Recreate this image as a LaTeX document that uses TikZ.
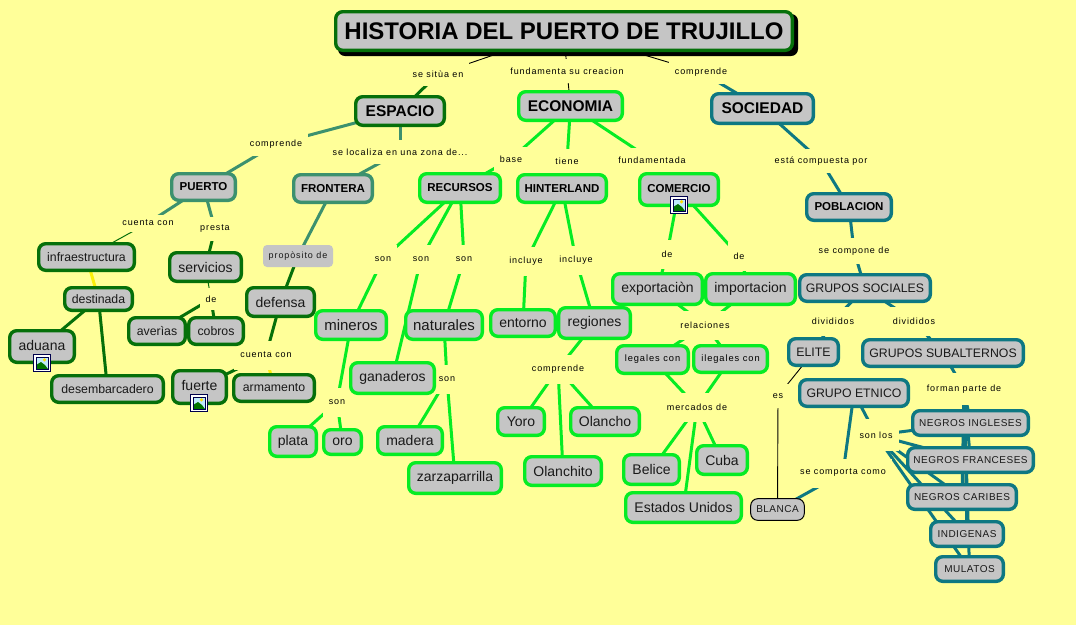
\documentclass[tikz,border=0pt]{standalone}
\usepackage{fontspec}
\setmainfont{Liberation Sans}
\newfontfamily\lsp[LetterSpace=10]{Liberation Sans}
\newfontfamily\lspb[LetterSpace=5]{Liberation Sans}
\usetikzlibrary{backgrounds}
\definecolor{bgy}{RGB}{255,255,153}
\definecolor{boxg}{RGB}{197,197,197}
\definecolor{dg}{RGB}{6,112,10}
\definecolor{mg}{RGB}{60,145,110}
\definecolor{bg}{RGB}{6,236,36}
\definecolor{tl}{RGB}{14,120,130}
\definecolor{yl}{RGB}{250,240,10}
\definecolor{txt}{RGB}{25,25,25}
\newcommand{\fs}[1]{\fontsize{#1}{#1}\selectfont}
\tikzset{
  cbox/.style={rectangle,rounded corners=7pt,fill=boxg,line width=3.4pt,text=txt,inner sep=0pt,outer sep=0pt,align=center},
  cdg/.style={cbox,draw=dg},
  cbg/.style={cbox,draw=bg},
  cmg/.style={cbox,draw=mg},
  ctl/.style={cbox,draw=tl},
  cbk/.style={cbox,draw=black,line width=1pt},
  lab/.style={rectangle,fill=bgy,font=\fs{9}\lsp,text=black,inner xsep=6pt,inner ysep=0pt,minimum height=24pt,outer sep=0pt},
  labm/.style={lab,minimum height=29pt},
  labt/.style={lab,minimum height=32pt},
  big/.style={font=\fs{15.5}\bfseries,text=black},
  midb/.style={font=\fs{11.5}\bfseries,text=black},
  t12/.style={font=\fs{12.3}},
  t14/.style={font=\fs{14}},
  t15/.style={font=\fs{15}},
  t10/.style={font=\fs{10}\lspb},
  t9/.style={font=\fs{9.3}\lsp,text=black},
  ldg/.style={draw=dg,line width=3pt},
  lmg/.style={draw=mg,line width=3pt},
  lbg/.style={draw=bg,line width=3pt},
  ltl/.style={draw=tl,line width=3pt},
  lyl/.style={draw=yl,line width=3pt},
  lthin/.style={draw=black,line width=0.9pt},
  lthg/.style={draw=dg,line width=1pt},
}
\newcommand{\cn}[7]{%
  \pgfmathsetmacro{\cx}{(#3+#5)/2}\pgfmathsetmacro{\cy}{(#4+#6)/2}%
  \pgfmathsetmacro{\cw}{#5-#3-3.4}\pgfmathsetmacro{\ch}{#6-#4-3.4}%
  \node[#1,minimum width=\cw pt,minimum height=\ch pt] (#2) at (\cx,\cy) {#7};}
\newcommand{\imgicon}[2]{%
  \begin{scope}[shift={(#1,#2)}]
    \fill[white] (-8.5,-8.5) rectangle (8.5,8.5);
    \draw[black!70!blue,line width=0.8pt] (-8.5,-8.5) rectangle (8.5,8.5);
    \fill[cyan!25!white] (-6,-6) rectangle (6,6);
    \fill[green!45!black] (-6,6) -- (-6,2) -- (-1,-1) -- (3,2) -- (6,6) -- cycle;
    \fill[yellow!80!orange] (2.5,-3.2) circle (1.8);
    \draw[black!70!blue,line width=0.6pt] (-6,-6) rectangle (6,6);
  \end{scope}}
\begin{document}
\begin{tikzpicture}[x=1pt,y=-1pt]
\useasboundingbox (0,0) rectangle (1076,625);
% linking phrases
\node[lab] (lsitua) at (438,74) {se sitùa en};
\node[lab] (lfunda) at (567,71) {fundamenta su creacion};
\node[lab] (lcomp) at (701,72) {comprende};
\node[lab] (lcomp2) at (276,144) {comprende};
\node[lab] (lzona) at (400,152) {se localiza en una zona de...};
\node[lab] (lbase) at (511,159) {base};
\node[lab] (ltiene) at (567,161) {tiene};
\node[lab] (lfundam) at (652,160) {fundamentada};
\node[lab] (lesta) at (821,161) {está compuesta por};
\node[lab,minimum height=17pt] (lcuenta) at (148,223) {cuenta con};
\node[lab] (lpresta) at (215,229) {presta};
\node[lab,minimum height=22pt] (lde) at (211,299) {de};
\node[lab,minimum height=26pt] (lsecomp) at (854,251) {se compone de};
\node[labm] (lson1) at (383,259) {son};
\node[labm] (lson2) at (421,259) {son};
\node[labm] (lson3) at (464,259) {son};
\node[labm] (linc1) at (526,261) {incluye};
\node[labm] (linc2) at (576,260) {incluye};
\node[labm] (lde2) at (667,254) {de};
\node[labm] (lde3) at (739,256) {de};
\node[labm] (lrel) at (705,325) {relaciones};
\node[labm] (ldiv1) at (833,321) {divididos};
\node[labm] (ldiv2) at (914,321) {divididos};
\node[labm] (lcuenta2) at (266,355) {cuenta con};
\node[labm] (lson4) at (337,402) {son};
\node[labm] (lson5) at (447,379) {son};
\node[labm] (lcomp3) at (558,369) {comprende};
\node[labm] (lmerc) at (697,407) {mercados de};
\node[lab] (les) at (778,396) {es};
\node[labt] (lforman) at (964,389) {forman parte de};
\node[labt] (lsonlos) at (876,435) {son los};
\node[labm] (lcomporta) at (843,473) {se comporta como};
% concepts
\fill[black] (338,14) [rounded corners=7pt] rectangle (798,56);
\cn{cdg,font=\fs{24}\bfseries,text=black}{title}{334}{10}{794}{52}{HISTORIA DEL PUERTO DE TRUJILLO}
\cn{cdg,big}{espacio}{354}{95}{446}{127}{ESPACIO}
\cn{cbg,big}{economia}{517}{90}{624}{122}{ECONOMIA}
\cn{ctl,big}{sociedad}{710}{92}{815}{125}{SOCIEDAD}
\cn{cmg,midb}{puerto}{170}{172}{237}{202}{PUERTO}
\cn{cmg,midb}{frontera}{292}{173}{374}{204}{FRONTERA}
\cn{cbg,midb}{recursos}{418}{172}{502}{204}{RECURSOS}
\cn{cbg,midb}{hinter}{516}{173}{608}{204}{HINTERLAND}
\cn{cbg,midb}{comercio}{638}{172}{720}{207}{\raisebox{2.5pt}{COMERCIO}}
\cn{ctl,midb}{poblacion}{805}{192}{893}{222}{POBLACION}
\cn{cdg,t12}{infra}{37}{242}{136}{272}{infraestructura}
\cn{cdg,t14}{servicios}{168}{251}{243}{283}{servicios}
\cn{cdg,t12}{destinada}{63}{286}{134}{312}{destinada}
\cn{cdg,t14}{defensa}{245}{286}{316}{318}{defensa}
\cn{cdg,t12}{averias}{127}{316}{187}{346}{averìas}
\cn{cdg,t12}{cobros}{187}{316}{245}{346}{cobros}
\cn{cdg,t14}{aduana}{8}{329}{76}{364}{\raisebox{3pt}{aduana}}
\cn{cdg,t12}{desemb}{50}{374}{165}{404}{desembarcadero}
\cn{cdg,t14}{fuerte}{171}{369}{228}{405}{\raisebox{4pt}{fuerte}}
\cn{cdg,t12}{armamento}{232}{373}{316}{403}{armamento}
\node[rectangle,rounded corners=4pt,fill=boxg,font=\fs{9}\lsp,text=txt,minimum width=70pt,minimum height=22pt,inner sep=0pt] (lproposito) at (298,256) {propòsito de};
\cn{cbg,t15}{mineros}{314}{309}{388}{341}{mineros}
\cn{cbg,t15}{naturales}{404}{309}{484}{341}{naturales}
\cn{cbg,t14}{ganaderos}{349}{361}{436}{395}{ganaderos}
\cn{cbg,t14}{plata}{268}{425}{318}{458}{plata}
\cn{cbg,t14}{oro}{322}{428}{363}{456}{oro}
\cn{cbg,t14}{madera}{376}{425}{444}{456}{madera}
\cn{cbg,t14}{zarza}{407}{461}{503}{495}{zarzaparrilla}
\cn{cbg,t14}{entorno}{489}{308}{557}{338}{entorno}
\cn{cbg,t14}{regiones}{557}{306}{632}{340}{regiones}
\cn{cbg,t14}{yoro}{496}{406}{546}{437}{Yoro}
\cn{cbg,t14}{olancho}{569}{406}{641}{437}{Olancho}
\cn{cbg,t14}{olanchito}{523}{455}{603}{487}{Olanchito}
\cn{cbg,t14}{export}{611}{272}{704}{306}{exportaciòn}
\cn{cbg,t14}{import}{704}{272}{797}{306}{importacion}
\cn{cbg,t9}{legales}{615}{344}{690}{375}{legales con}
\cn{cbg,t9}{ilegales}{692}{344}{769}{374}{ilegales con}
\cn{cbg,t14}{belice}{622}{453}{681}{486}{Belice}
\cn{cbg,t14}{cuba}{695}{444}{749}{476}{Cuba}
\cn{cbg,t14}{eeuu}{624}{491}{743}{524}{Estados Unidos}
\cn{ctl,t12}{gsociales}{798}{273}{932}{303}{GRUPOS SOCIALES}
\cn{ctl,t14}{elite}{787}{337}{840}{367}{\fs{12.3}ELITE}
\cn{ctl,t12}{gsub}{861}{338}{1025}{368}{GRUPOS SUBALTERNOS}
\cn{ctl,t12}{getnico}{798}{378}{910}{408}{GRUPO ETNICO}
\cn{cbk,t10}{blanca}{749}{497}{806}{522}{BLANCA}
\cn{ctl,t10}{ingleses}{911}{409}{1030}{437}{NEGROS INGLESES}
\cn{ctl,t10}{franceses}{906}{446}{1035}{474}{NEGROS FRANCESES}
\cn{ctl,t10}{caribes}{906}{483}{1018}{511}{NEGROS CARIBES}
\cn{ctl,t10}{indigenas}{929}{520}{1005}{548}{INDIGENAS}
\cn{ctl,t10}{mulatos}{934}{555}{1005}{583}{MULATOS}
% image markers
\imgicon{679}{205}
\imgicon{42}{363}
\imgicon{199}{403}
% connectors
\begin{scope}[on background layer]
\fill[bgy] (0,0) rectangle (1076,625);
\foreach \a/\b in {title/lsitua,title/lfunda,title/lcomp,lfunda/economia,elite/les,les/blanca}
  \draw[lthin] (\a.center) -- (\b.center);
\foreach \a/\b in {lcuenta/infra,servicios/lde}
  \draw[lthg] (\a.center) -- (\b.center);
\foreach \a/\b in {lsitua/espacio,lpresta/servicios,destinada/aduana,destinada/desemb,lde/averias,lde/cobros,lproposito/defensa,defensa/lcuenta2,lcuenta2/fuerte}
  \draw[ldg] (\a.center) -- (\b.center);
\foreach \a/\b in {infra/destinada,lcuenta2/armamento}
  \draw[lyl] (\a.center) -- (\b.center);
\foreach \a/\b in {espacio/lcomp2,lcomp2/puerto,espacio/lzona,lzona/frontera,puerto/lcuenta,puerto/lpresta,frontera/lproposito}
  \draw[lmg] (\a.center) -- (\b.center);
\foreach \a/\b in {economia/lbase,economia/ltiene,economia/lfundam,lbase/recursos,ltiene/hinter,lfundam/comercio,recursos/lson1,recursos/lson2,recursos/lson3,lson1/mineros,lson2/ganaderos,lson3/naturales,naturales/lson5,lson5/madera,lson5/zarza,mineros/lson4,lson4/plata,lson4/oro,hinter/linc1,hinter/linc2,linc1/entorno,linc2/regiones,regiones/lcomp3,lcomp3/yoro,lcomp3/olancho,lcomp3/olanchito,comercio/lde2,comercio/lde3,lde2/export,lde3/import,export/lrel,import/lrel,lrel/legales,lrel/ilegales,legales/lmerc,ilegales/lmerc,lmerc/belice,lmerc/cuba,lmerc/eeuu}
  \draw[lbg] (\a.center) -- (\b.center);
\foreach \a/\b in {lcomp/sociedad,sociedad/lesta,lesta/poblacion,poblacion/lsecomp,lsecomp/gsociales,gsociales/ldiv1,gsociales/ldiv2,ldiv1/elite,ldiv2/gsub,gsub/lforman,lforman/ingleses,lforman/franceses,lforman/caribes,lforman/indigenas,lforman/mulatos,getnico/lsonlos,lsonlos/ingleses,lsonlos/franceses,lsonlos/caribes,lsonlos/indigenas,lsonlos/mulatos,getnico/lcomporta,lcomporta/blanca}
  \draw[ltl] (\a.center) -- (\b.center);
\end{scope}
\end{tikzpicture}
\end{document}
